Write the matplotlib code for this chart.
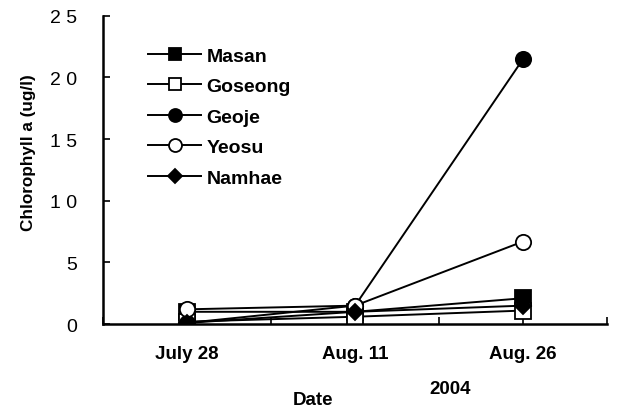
import matplotlib.pyplot as plt

plt.rcParams['font.family'] = ['Liberation Sans', 'DejaVu Sans']

# sampling dates and chlorophyll a per station
dates = ['July 28', 'Aug. 11', 'Aug. 26']
date_pos = [1, 3, 5]
masan = [1.0, 1.0, 2.1]
goseong = [0.2, 0.6, 1.1]
geoje = [0.1, 1.5, 21.5]
yeosu = [1.2, 1.5, 6.7]
namhae = [0.1, 1.0, 1.5]

yticks = [0, 5, 10, 15, 20, 25]
ytick_labels = ['0', '5', '1 0', '1 5', '2 0', '2 5']

fig = plt.figure(figsize=(6.17, 4.10), dpi=100)
ax = fig.add_axes([0.167, 0.207, 0.817, 0.752])

styles = [
    ('Masan', masan, 's', 'black'),
    ('Goseong', goseong, 's', 'white'),
    ('Geoje', geoje, 'o', 'black'),
    ('Yeosu', yeosu, 'o', 'white'),
    ('Namhae', namhae, 'D', 'black'),
]
for name, vals, mk, fc in styles:
    ms = 8.5 if mk == 'D' else 11
    ax.plot(date_pos, vals, color='black', lw=1.4, marker=mk, ms=ms,
            mfc=fc, mec='black', mew=1.3, label=name)

ax.set_xlim(0, 6)
ax.set_ylim(0, 25)
ax.set_xticks(range(0, 7))
ax.set_xticklabels([''] * 7)
for p, d in zip(date_pos, dates):
    ax.text(p, -1.7, d, ha='center', va='top', fontsize=13.5,
            fontweight='bold')
ax.set_yticks(yticks)
ax.set_yticklabels(ytick_labels, fontsize=14)
ax.tick_params(direction='in', length=5, width=1.2)
ax.tick_params(axis='y', pad=19)

for side in ['top', 'right']:
    ax.spines[side].set_visible(False)
for side in ['left', 'bottom']:
    ax.spines[side].set_linewidth(1.8)

ax.set_ylabel('Chlorophyll a (ug/l)', fontsize=12.3, fontweight='bold')
ax.yaxis.set_label_coords(-0.132, 0.56)
fig.text(0.507, 0.024, 'Date', ha='center', va='center', fontsize=13.5,
         fontweight='bold')
fig.text(0.729, 0.049, '2004', ha='center', va='center', fontsize=13.5,
         fontweight='bold')

leg = ax.legend(loc='upper left', bbox_to_anchor=(0.055, 0.955), frameon=False,
                handlelength=2.7, labelspacing=0.66, handletextpad=0.3,
                markerscale=0.85, prop={'weight': 'bold', 'size': 14})

fig.savefig('out.png', dpi=100)
